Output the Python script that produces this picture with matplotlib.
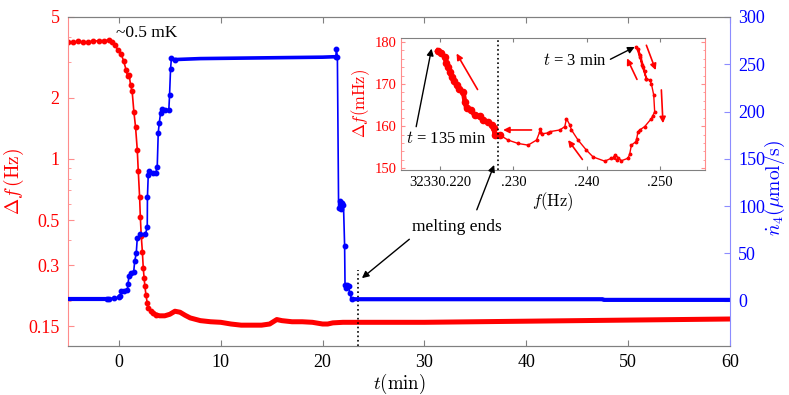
import matplotlib
matplotlib.use("Agg")
import matplotlib.pyplot as plt
from matplotlib.ticker import FixedLocator, FixedFormatter, LogLocator, NullFormatter, MultipleLocator

plt.rcParams['font.family'] = ['Liberation Serif', 'DejaVu Serif']
plt.rcParams['mathtext.fontset'] = 'cm'

# ---- main panel data: frequency shift (left, log) ----
red_t = [-5, -4.5, -4, -3.5, -3, -2.5, -2, -1.5, -1, -0.7, -0.4, -0.1, 0.2, 0.45,
         0.7, 0.85, 1.0, 1.15, 1.3, 1.47, 1.63, 1.8, 1.9, 2.03, 2.1, 2.19, 2.3,
         2.39, 2.47, 2.55, 2.65, 2.78, 2.9, 3.1, 3.3, 3.6]
red_v = [3.78, 3.75, 3.8, 3.76, 3.78, 3.8, 3.82, 3.83, 3.84, 3.78, 3.62, 3.45, 3.3,
         3.05, 2.75, 2.55, 2.6, 2.3, 2.15, 1.7, 1.44, 1.11, 0.87, 0.65, 0.52, 0.42,
         0.35, 0.29, 0.26, 0.236, 0.215, 0.195, 0.185, 0.178, 0.174, 0.171]
red_tail_t = [3.6, 4, 4.5, 5, 5.5, 6, 6.5, 7, 8, 9, 10, 11, 12, 13, 14, 14.8, 15.5,
              16, 17, 18, 19, 20, 20.5, 21, 22, 25, 30, 40, 50, 60]
red_tail_v = [0.171, 0.169, 0.169, 0.172, 0.178, 0.176, 0.17, 0.165, 0.16, 0.158,
              0.157, 0.154, 0.152, 0.152, 0.152, 0.154, 0.162, 0.16, 0.158, 0.158,
              0.157, 0.154, 0.154, 0.156, 0.157, 0.157, 0.157, 0.159, 0.161, 0.163]

# ---- main panel data: 4He flow (right, linear) ----
blue_flat_t = [-5, -3, -1.2]
blue_flat_v = [1.5, 1.5, 1.5]
blue_t = [-1.2, -1.0, -0.5, 0, 0.15, 0.24, 0.5, 0.83, 0.9, 0.98, 1.2, 1.45, 1.55,
          1.7, 1.8, 2.1, 2.6, 2.78, 2.8, 2.88, 3.0, 3.3, 3.6, 3.76, 3.86, 3.96,
          4.09, 4.19, 4.5, 4.9, 4.97, 5.07, 5.16, 5.55]
blue_v = [1.5, 2, 3, 3.5, 5, 10.2, 10.5, 11, 18, 26, 29, 30.5, 42, 50, 66, 70,
          70.4, 77.5, 110, 133, 137, 135, 134.6, 141.5, 177.5, 188, 198.6, 203,
          202, 202, 217, 245.5, 257, 255]
blue_plateau_t = [5.55, 8, 12, 16, 20, 21.3]
blue_plateau_v = [255, 256, 256.5, 257, 257.5, 258]
blue_drop_t = [21.3, 21.35, 21.45, 21.57, 21.7, 21.8, 21.9, 22.05, 22.16, 22.2,
               22.3, 22.43, 22.55, 22.65, 22.88]
blue_drop_v = [258, 266, 258, 98, 105, 97, 103, 101, 58, 17, 13, 17, 16, 8, 1.5]
blue_end_t = [22.88, 30, 40, 47.5, 47.6, 60]
blue_end_v = [1.5, 1.5, 1.5, 1.5, 0.8, 0.8]

melt_end_t = 23.43

left_ticks = [0.15, 0.3, 0.5, 1, 2, 5]
left_labels = ['0.15', '0.3', '0.5', '1', '2', '5']
right_ticks = [0, 50, 100, 150, 200, 250, 300]
x_ticks = [0, 10, 20, 30, 40, 50, 60]

# ---- inset data: delta f (mHz) vs f offset from 32330 Hz ----
thin_f = [0.24676, 0.2472, 0.2477, 0.2481, 0.2475, 0.2470, 0.2473, 0.2479, 0.24812,
          0.24857, 0.2488, 0.24912, 0.24925, 0.2490, 0.2488, 0.24789, 0.24721,
          0.24698, 0.2468, 0.24667, 0.24608, 0.24585, 0.24562, 0.24472, 0.2443,
          0.2439, 0.2437, 0.2441, 0.24336, 0.24245, 0.24086, 0.23996, 0.23882,
          0.23792, 0.23769, 0.23724, 0.23701, 0.23633, 0.23497, 0.23473, 0.2339,
          0.2337, 0.23361, 0.23316, 0.23201, 0.23065, 0.22929, 0.22816]
thin_v = [178.8, 176.5, 174.0, 171.3, 174.5, 178.3, 177.0, 173.0, 171.3, 170.9,
          170.1, 167.4, 163.4, 162.5, 161.8, 159.9, 159.1, 158.7, 157.0, 156.3,
          155.5, 153.4, 152.4, 151.8, 152.5, 153.2, 152.6, 152.0, 152.4, 151.7,
          152.7, 154.3, 156.7, 159.1, 160.3, 161.8, 159.9, 159.1, 158.7, 158.4,
          158.2, 159.4, 158.7, 156.7, 155.5, 155.9, 156.7, 157.9]
thick_f = [0.22816, 0.22748, 0.22735, 0.22703, 0.2265, 0.22589, 0.2254, 0.22476,
           0.2242, 0.22363, 0.2234, 0.22317, 0.2226, 0.22227, 0.2219, 0.22159,
           0.22135, 0.22113, 0.2209, 0.22068, 0.2202, 0.21969]
thick_v = [157.9, 157.9, 159.5, 160.3, 161.0, 161.4, 162.3, 162.6, 163.8, 164.2,
           165.8, 168.2, 168.8, 169.7, 170.8, 171.7, 172.8, 174.1, 175.0, 176.4,
           177.3, 177.9]
inset_xticks = [0.22, 0.23, 0.24, 0.25]
inset_xlabels = ['32330.220', '.230', '.240', '.250']
inset_melt_f = 0.22785

# direction arrows in the inset (tail f, tail v, head f, head v)
inset_arrows = [
    (0.22513, 168.7, 0.22227, 177.25),
    (0.23248, 159.1, 0.22861, 159.1),
    (0.23941, 152.1, 0.23746, 156.7),
    (0.24684, 171.1, 0.24548, 176.1),
    (0.24812, 179.2, 0.24939, 173.3),
    (0.25016, 168.6, 0.25038, 160.7),
]

RED = '#ff0000'
BLUE = '#0000ff'
RED_SP = '#ff8c8c'
BLUE_SP = '#8c8cff'
GRAY = '#808080'

fig = plt.figure(figsize=(7.89, 3.95), dpi=100)
ax = fig.add_axes([0.0862, 0.124, 0.839, 0.833])
ax2 = ax.twinx()

ax.plot(red_tail_t, red_tail_v, color=RED, lw=3.6, solid_capstyle='round')
ax.plot(red_t, red_v, color=RED, lw=1.2, marker='o', ms=3.2)
ax.plot([melt_end_t, melt_end_t], [0.12, 0.285], color='k', lw=1.2, ls=':')

ax2.plot(blue_flat_t, blue_flat_v, color=BLUE, lw=3.0)
ax2.plot(blue_t, blue_v, color=BLUE, lw=1.2, marker='o', ms=3.2)
ax2.plot(blue_plateau_t, blue_plateau_v, color=BLUE, lw=2.6)
ax2.plot(blue_drop_t, blue_drop_v, color=BLUE, lw=1.2, marker='o', ms=3.2)
ax2.plot(blue_end_t, blue_end_v, color=BLUE, lw=3.0)

ax.set_xlim(-5, 60)
ax.set_yscale('log')
ax.set_ylim(0.12, 5)
ax.yaxis.set_major_locator(FixedLocator(left_ticks))
ax.yaxis.set_major_formatter(FixedFormatter(left_labels))
ax.yaxis.set_minor_locator(LogLocator(subs=range(2, 10)))
ax.yaxis.set_minor_formatter(NullFormatter())
ax.xaxis.set_major_locator(FixedLocator(x_ticks))
ax2.set_ylim(-48, 300)
ax2.yaxis.set_major_locator(FixedLocator(right_ticks))

ax.tick_params(axis='x', which='both', direction='in', top=True, length=4,
               color=GRAY, labelsize=13, pad=6)
ax.tick_params(axis='y', which='major', direction='in', length=4, color=RED_SP,
               labelcolor=RED, labelsize=13, pad=6)
ax.tick_params(axis='y', which='minor', direction='in', length=2.5, color=RED_SP)
ax2.tick_params(axis='y', direction='in', length=4, color=BLUE_SP,
                labelcolor=BLUE, labelsize=13, pad=6)

for a in (ax, ax2):
    a.spines['top'].set_color(GRAY)
    a.spines['bottom'].set_color(GRAY)
ax.spines['left'].set_color(RED_SP)
ax.spines['right'].set_visible(False)
ax2.spines['left'].set_visible(False)
ax2.spines['right'].set_color(BLUE_SP)

ax.set_xlabel(r'$t(\mathrm{min})$', fontsize=13.5)
ax.set_ylabel(r'$\Delta f\,(\mathrm{Hz})$', fontsize=14, color=RED)
ax2.set_ylabel(r'$\dot{n}_4(\mu\mathrm{mol/s})$', fontsize=14, color=BLUE)
ax.xaxis.set_label_coords(0.5, -0.08)
ax.yaxis.set_label_coords(-0.064, 0.5)
ax2.yaxis.set_label_coords(1.05, 0.48)

ax.text(-0.32, 4.17, '~0.5 mK', fontsize=12.5, ha='left', va='center')

# ---- inset ----
axins = fig.add_axes([0.5082, 0.5696, 0.3853, 0.335])
axins.plot(thin_f, thin_v, color=RED, lw=1.0, marker='o', ms=1.8)
axins.plot(thick_f, thick_v, color=RED, lw=3.5, marker='o', ms=4.5)
axins.axvline(inset_melt_f, color='k', lw=1.2, ls=':')
axins.set_xlim(0.2147, 0.2561)
axins.set_ylim(149.6, 181)
axins.xaxis.set_major_locator(FixedLocator(inset_xticks))
axins.xaxis.set_major_formatter(FixedFormatter(inset_xlabels))
axins.yaxis.set_major_locator(MultipleLocator(10))
axins.yaxis.set_minor_locator(MultipleLocator(2))
axins.tick_params(axis='x', direction='in', top=True, length=3, color=GRAY,
                  labelsize=10.5, pad=4)
axins.tick_params(axis='y', which='both', direction='in', left=True, right=True,
                  color=RED_SP, labelcolor=RED, labelsize=10.5, pad=3)
axins.tick_params(axis='y', which='major', length=3)
axins.tick_params(axis='y', which='minor', length=1.8)
axins.spines['top'].set_color(GRAY)
axins.spines['bottom'].set_color(GRAY)
axins.spines['left'].set_color(RED_SP)
axins.spines['right'].set_color(RED_SP)
axins.set_xlabel(r'$f(\mathrm{Hz})$', fontsize=12, labelpad=1)
axins.set_ylabel(r'$\Delta f(\mathrm{mHz})$', fontsize=12, color=RED, labelpad=2)

for f0, v0, f1, v1 in inset_arrows:
    axins.annotate('', xy=(f1, v1), xytext=(f0, v0),
                   arrowprops=dict(arrowstyle='-|>', color=RED, lw=1.2,
                                   mutation_scale=9, shrinkA=0, shrinkB=0))

axins.annotate('$t$ = 135 min', xy=(0.21887, 178.4), xytext=(0.22082, 157.0),
               fontsize=12, ha='center', va='center',
               arrowprops=dict(arrowstyle='-|>', color='k', lw=1.0, mutation_scale=10,
                               shrinkA=1, shrinkB=0, relpos=(0.12, 1.0)))
axins.annotate('$t$ = 3 min', xy=(0.24653, 178.8), xytext=(0.23833, 175.4),
               fontsize=12, ha='center', va='center',
               arrowprops=dict(arrowstyle='-|>', color='k', lw=1.0, mutation_scale=10,
                               shrinkA=1, shrinkB=0, relpos=(1.0, 0.5)))

# "melting ends" with two arrows
ax.annotate('melting ends', xy=(23.86, 0.259), xytext=(33.2, 0.464),
            fontsize=12.5, ha='center', va='center',
            arrowprops=dict(arrowstyle='-|>', color='k', lw=1.0, mutation_scale=10,
                            shrinkA=2, shrinkB=0, relpos=(0.03, 0.0)))
axins.annotate('', xy=(0.22739, 150.8), xytext=(35.14, 0.562),
               textcoords=ax.transData,
               arrowprops=dict(arrowstyle='-|>', color='k', lw=1.0, mutation_scale=10,
                               shrinkA=0, shrinkB=0))

fig.savefig('out.png', dpi=100)
